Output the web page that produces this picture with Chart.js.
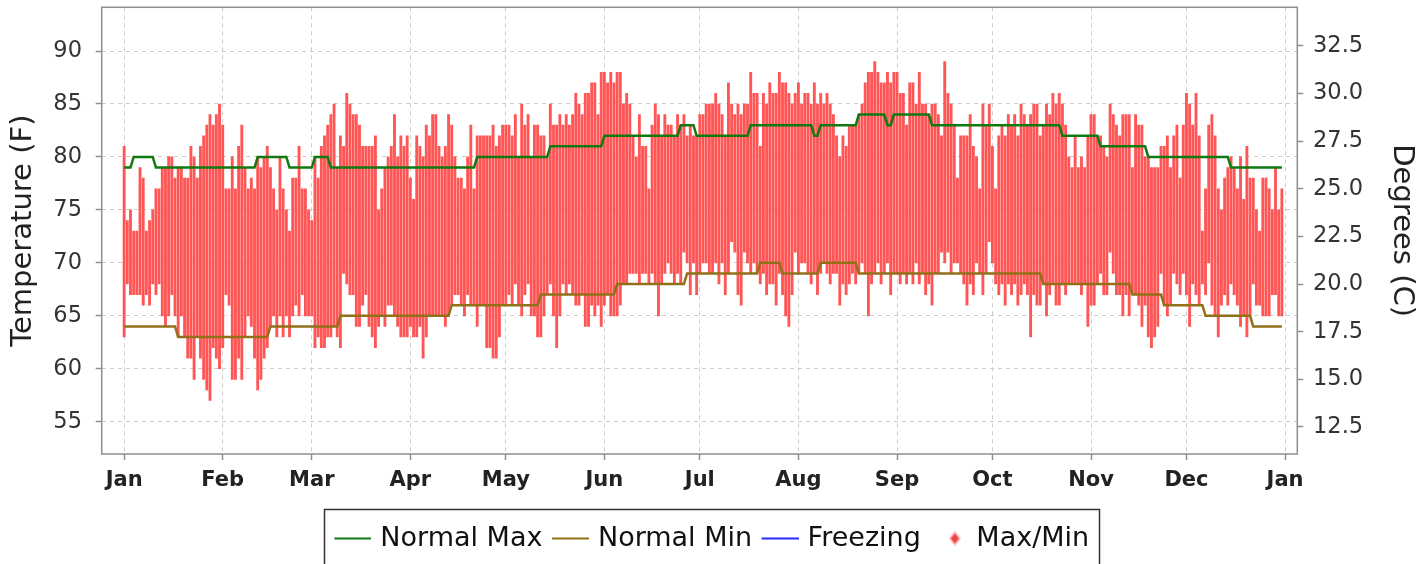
<!DOCTYPE html>
<html>
<head>
<meta charset="utf-8">
<script src="https://cdn.jsdelivr.net/npm/chart.js"></script>
<style>
html,body{margin:0;padding:0;background:#fff;}
canvas{display:block;}
</style>
</head>
<body>
<canvas id="c" width="1426" height="564"></canvas>
<script>
// ---- data (day index 0 = Jan 1) ----
const monthStarts = [0,31,59,90,120,151,181,212,243,273,304,334,365];
const monthLabels = ['Jan','Feb','Mar','Apr','May','Jun','Jul','Aug','Sep','Oct','Nov','Dec','Jan'];
const yTicksF = [55,60,65,70,75,80,85,90];
const yTicksC = [12.5,15,17.5,20,22.5,25,27.5,30,32.5];
const freezingF = 32;

const dailyMax = [
81,74,75,73,73,79,78,73,74,75,
77,77,79,79,80,80,78,79,79,78,
78,81,80,78,81,82,83,84,83,84,
85,83,77,77,80,77,81,83,79,77,
78,77,80,79,80,81,79,77,75,80,
77,75,73,78,78,81,77,77,75,74,
80,78,81,82,83,84,85,79,82,81,
86,85,84,84,83,81,81,81,81,82,
75,77,79,80,81,84,80,82,81,82,
78,76,82,81,80,83,82,84,84,81,
80,81,84,83,80,78,78,77,80,83,
77,82,82,82,82,82,83,81,82,83,
83,83,82,84,80,85,83,84,80,83,
83,82,82,80,85,83,83,84,83,84,
83,84,86,85,84,86,86,87,87,84,
88,88,87,88,87,88,88,85,86,85,
82,80,84,81,81,77,83,85,84,82,
84,83,83,82,84,83,84,82,83,82,
82,84,84,85,85,85,86,85,84,82,
87,85,84,85,84,85,85,88,86,86,
81,86,85,87,86,86,88,87,87,86,
85,86,87,85,86,86,85,87,85,86,
85,86,85,84,82,80,82,81,83,83,
83,84,85,87,88,88,89,88,87,87,
88,87,88,88,86,86,83,87,87,85,
88,85,85,84,85,85,84,82,89,86,
85,83,78,82,82,82,84,81,80,77,
85,83,85,81,77,82,83,82,84,83,
84,82,85,84,83,84,85,85,82,83,
85,84,86,85,86,85,83,80,79,82,
79,80,79,82,84,84,82,82,81,80,
85,84,83,82,84,84,84,79,84,83,
83,80,80,79,79,79,81,81,82,79,
82,83,78,83,86,85,83,86,82,73,
77,83,84,82,77,75,78,79,80,79,
77,80,76,81,78,78,75,73,78,78,
77,75,79,75,77];

const dailyMin = [
63,68,67,67,67,67,66,67,66,68,
67,68,65,64,65,67,65,63,65,63,
61,61,59,63,61,59,58,57,62,61,
60,62,67,66,59,59,61,59,63,65,
64,61,58,59,61,62,64,65,63,65,
63,65,63,65,66,65,67,65,65,65,
62,63,62,62,63,63,64,63,62,69,
68,67,67,64,64,66,67,64,63,62,
64,65,64,66,66,65,64,63,63,63,
64,63,63,64,61,63,65,65,65,65,
65,64,65,66,67,67,66,65,67,66,
66,64,66,66,62,62,61,61,63,66,
66,67,66,68,66,65,67,68,65,65,
63,63,65,67,68,65,62,65,68,67,
68,67,66,66,67,64,64,66,65,66,
64,66,67,65,65,65,66,68,68,69,
69,69,68,69,69,68,69,68,65,68,
69,70,69,68,69,68,71,70,67,70,
67,69,70,70,69,69,70,68,70,67,
69,72,71,67,66,71,70,69,70,69,
68,69,67,68,68,66,69,67,65,64,
67,71,69,70,70,69,68,69,67,69,
70,69,68,69,69,66,68,67,68,69,
68,69,70,69,65,68,69,70,68,69,
70,67,69,69,68,69,68,69,68,70,
68,69,67,68,66,69,69,71,70,71,
69,70,70,69,68,66,68,67,70,69,
67,69,72,70,68,67,68,66,68,67,
68,66,67,68,67,63,67,66,66,68,
65,67,68,66,66,68,67,68,68,68,
68,67,68,64,66,66,68,69,67,67,
71,69,67,67,65,67,65,67,67,66,
64,66,63,62,63,64,69,66,65,66,
69,68,67,69,67,64,68,67,66,68,
67,70,66,65,63,66,67,66,68,67,
66,64,65,63,65,68,66,66,65,65,
65,67,67,65,65];

const normalMax = [
79,79,79,80,80,80,80,80,80,80,
79,79,79,79,79,79,79,79,79,79,
79,79,79,79,79,79,79,79,79,79,
79,79,79,79,79,79,79,79,79,79,
79,79,80,80,80,80,80,80,80,80,
80,80,79,79,79,79,79,79,79,79,
80,80,80,80,80,79,79,79,79,79,
79,79,79,79,79,79,79,79,79,79,
79,79,79,79,79,79,79,79,79,79,
79,79,79,79,79,79,79,79,79,79,
79,79,79,79,79,79,79,79,79,79,
79,80,80,80,80,80,80,80,80,80,
80,80,80,80,80,80,80,80,80,80,
80,80,80,80,81,81,81,81,81,81,
81,81,81,81,81,81,81,81,81,81,
81,82,82,82,82,82,82,82,82,82,
82,82,82,82,82,82,82,82,82,82,
82,82,82,82,82,83,83,83,83,83,
82,82,82,82,82,82,82,82,82,82,
82,82,82,82,82,82,82,83,83,83,
83,83,83,83,83,83,83,83,83,83,
83,83,83,83,83,83,83,82,82,83,
83,83,83,83,83,83,83,83,83,83,
83,84,84,84,84,84,84,84,84,84,
83,83,84,84,84,84,84,84,84,84,
84,84,84,84,83,83,83,83,83,83,
83,83,83,83,83,83,83,83,83,83,
83,83,83,83,83,83,83,83,83,83,
83,83,83,83,83,83,83,83,83,83,
83,83,83,83,83,82,82,82,82,82,
82,82,82,82,82,82,82,81,81,81,
81,81,81,81,81,81,81,81,81,81,
81,81,80,80,80,80,80,80,80,80,
80,80,80,80,80,80,80,80,80,80,
80,80,80,80,80,80,80,80,79,79,
79,79,79,79,79,79,79,79,79,79,
79,79,79,79,79];

const normalMin = [
64,64,64,64,64,64,64,64,64,64,
64,64,64,64,64,64,64,63,63,63,
63,63,63,63,63,63,63,63,63,63,
63,63,63,63,63,63,63,63,63,63,
63,63,63,63,63,63,64,64,64,64,
64,64,64,64,64,64,64,64,64,64,
64,64,64,64,64,64,64,64,65,65,
65,65,65,65,65,65,65,65,65,65,
65,65,65,65,65,65,65,65,65,65,
65,65,65,65,65,65,65,65,65,65,
65,65,65,66,66,66,66,66,66,66,
66,66,66,66,66,66,66,66,66,66,
66,66,66,66,66,66,66,66,66,66,
66,67,67,67,67,67,67,67,67,67,
67,67,67,67,67,67,67,67,67,67,
67,67,67,67,67,68,68,68,68,68,
68,68,68,68,68,68,68,68,68,68,
68,68,68,68,68,68,68,69,69,69,
69,69,69,69,69,69,69,69,69,69,
69,69,69,69,69,69,69,69,69,69,
70,70,70,70,70,70,70,69,69,69,
69,69,69,69,69,69,69,69,69,70,
70,70,70,70,70,70,70,70,70,70,
70,69,69,69,69,69,69,69,69,69,
69,69,69,69,69,69,69,69,69,69,
69,69,69,69,69,69,69,69,69,69,
69,69,69,69,69,69,69,69,69,69,
69,69,69,69,69,69,69,69,69,69,
69,69,69,69,69,69,69,69,69,68,
68,68,68,68,68,68,68,68,68,68,
68,68,68,68,68,68,68,68,68,68,
68,68,68,68,68,68,68,67,67,67,
67,67,67,67,67,67,67,66,66,66,
66,66,66,66,66,66,66,66,66,66,
65,65,65,65,65,65,65,65,65,65,
65,65,65,65,65,64,64,64,64,64,
64,64,64,64,64];

// ---- styling ----
const FONT = "'DejaVu Sans', 'Liberation Sans', sans-serif";
Chart.defaults.font.family = FONT;
const GREEN = 'rgb(16,122,16)';
const BROWN = 'rgb(146,112,24)';
const BLUE = 'rgb(40,40,255)';
const RED = 'rgb(255,85,85)';

function lineGlyph(color){
  const c = document.createElement('canvas');
  c.width = 39; c.height = 3;
  const g = c.getContext('2d');
  g.fillStyle = color; g.fillRect(2, 0.5, 37, 2);
  return c;
}
function diamondGlyph(color){
  const c = document.createElement('canvas');
  c.width = 30; c.height = 16;
  const g = c.getContext('2d');
  g.fillStyle = 'rgba(255,150,150,0.7)';
  g.beginPath(); g.moveTo(22,0.5); g.lineTo(28,8); g.lineTo(22,15.5); g.lineTo(16,8); g.closePath(); g.fill();
  g.fillStyle = color;
  g.beginPath(); g.moveTo(22,3); g.lineTo(26,8); g.lineTo(22,13); g.lineTo(18,8); g.closePath(); g.fill();
  return c;
}
const glyphs = [lineGlyph(GREEN), lineGlyph(BROWN), lineGlyph(BLUE), diamondGlyph('rgb(235,70,70)')];

const toXY = arr => arr.map((v, i) => ({x: i, y: v}));

const framePlugin = {
  id: 'frame',
  afterDraw(chart){
    const {ctx, chartArea: a} = chart;
    ctx.save();
    ctx.strokeStyle = '#8e8e8e';
    ctx.lineWidth = 1.5;
    ctx.strokeRect(a.left, a.top, a.right - a.left, a.bottom - a.top);
    const hb = chart.legend && chart.legend.legendHitBoxes;
    if (hb && hb.length){
      const last = hb[hb.length - 1];
      const l = hb[0].left - 12.5;
      const r = last.left + last.width + 10;
      const t = hb[0].top - 16;
      ctx.strokeStyle = '#333';
      ctx.lineWidth = 1.5;
      ctx.strokeRect(Math.round(l) + 0.5, Math.round(t) + 0.5, Math.round(r - l), 200);
    }
    ctx.restore();
  }
};

const gridCommon = {color: '#cbcbcb', lineWidth: 1, tickLength: 6, tickColor: '#8e8e8e', tickWidth: 1.5, offset: false};

new Chart(document.getElementById('c'), {
  type: 'line',
  data: {
    datasets: [
      {label: 'Normal Max', data: toXY(normalMax), borderColor: GREEN, backgroundColor: GREEN, borderWidth: 2.5, pointRadius: 0, tension: 0, fill: false, yAxisID: 'y'},
      {label: 'Normal Min', data: toXY(normalMin), borderColor: BROWN, backgroundColor: BROWN, borderWidth: 2.5, pointRadius: 0, tension: 0, fill: false, yAxisID: 'y'},
      {label: 'Freezing', data: [{x: 0, y: freezingF}, {x: dailyMax.length - 1, y: freezingF}], borderColor: BLUE, backgroundColor: BLUE, borderWidth: 2, pointRadius: 0, fill: false, yAxisID: 'y'},
      {type: 'bar', label: 'Max/Min', data: dailyMax.map((v, i) => ({x: i, y: [dailyMin[i], v]})), backgroundColor: RED, borderWidth: 0, barThickness: 2.2, yAxisID: 'y'}
    ]
  },
  options: {
    responsive: false,
    animation: false,
    events: [],
    layout: {padding: {top: 7.3, left: 0, right: 0, bottom: 2}},
    plugins: {
      tooltip: {enabled: false},
      legend: {
        position: 'bottom',
        labels: {
          usePointStyle: true,
          pointStyleWidth: 30,
          padding: 12,
          color: '#111',
          font: {family: FONT, size: 27},
          generateLabels(chart){
            const items = Chart.defaults.plugins.legend.labels.generateLabels(chart);
            items.forEach((it, i) => { it.pointStyle = glyphs[i]; it.rotation = 0; it.lineWidth = 0; });
            return items;
          }
        }
      }
    },
    scales: {
      x: {
        type: 'linear', min: -7.05, max: 368.85, offset: false,
        afterBuildTicks(s){ s.ticks = monthStarts.map(v => ({value: v})); },
        ticks: {callback: (v, i) => monthLabels[i], autoSkip: false, maxRotation: 0, padding: 8, color: '#222', font: {family: FONT, size: 21, weight: 'bold'}},
        grid: gridCommon,
        border: {display: false, dash: [4, 4]},
        afterFit(s){
          const lh = (s.chart.legend && s.chart.legend.height) || 49;
          s.height = 564 - 2 - lh - 454;
          s.paddingLeft = 0; s.paddingRight = 0;
        }
      },
      y: {
        position: 'left', min: 51.95, max: 94.13,
        afterBuildTicks(s){ s.ticks = yTicksF.map(v => ({value: v})); },
        ticks: {callback: v => String(v), padding: 13.7, color: '#333', font: {family: FONT, size: 22.5}},
        title: {display: true, text: 'Temperature (F)', color: '#222', font: {family: FONT, size: 29}, padding: {top: 6, bottom: 0}},
        grid: gridCommon,
        border: {display: false, dash: [4, 4]},
        afterFit(s){ s.width = 101.7; s.paddingTop = 0; s.paddingBottom = 0; }
      },
      y1: {
        position: 'right', min: (51.95 - 32) / 1.8, max: (94.13 - 32) / 1.8,
        afterBuildTicks(s){ s.ticks = yTicksC.map(v => ({value: v})); },
        ticks: {callback: v => Number(v).toFixed(1), padding: 9.7, color: '#333', font: {family: FONT, size: 22.5}},
        title: {display: true, text: 'Degrees (C)', color: '#222', font: {family: FONT, size: 29}, padding: {top: 7, bottom: 0}},
        grid: Object.assign({}, gridCommon, {drawOnChartArea: false}),
        border: {display: false},
        afterFit(s){ s.width = 128.7; s.paddingTop = 0; s.paddingBottom = 0; }
      }
    }
  },
  plugins: [framePlugin]
});
</script>
</body>
</html>
